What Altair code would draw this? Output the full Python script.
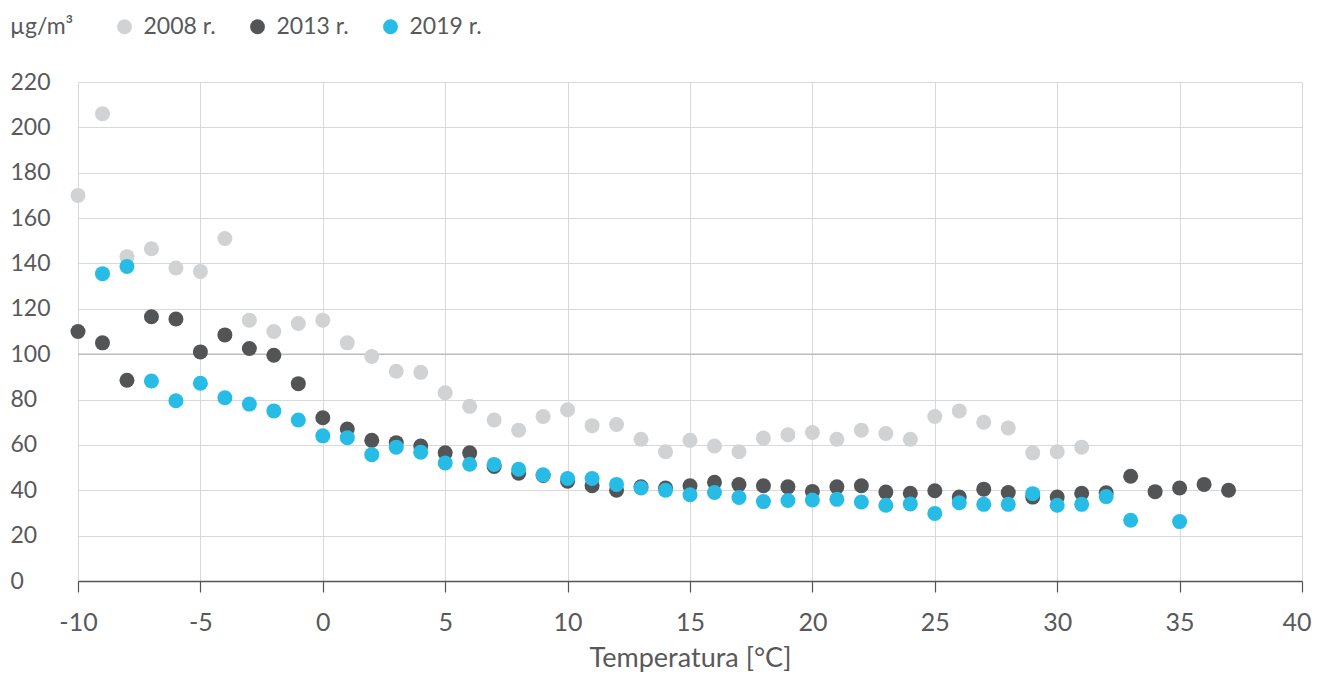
import altair as alt
import pandas as pd

# Temperature categories (°C) and PM concentrations (µg/m³)
t_2008 = [-10, -9, -8, -7, -6, -5, -4, -3, -2, -1, 0, 1, 2, 3, 4, 5, 6, 7, 8, 9, 10,
          11, 12, 13, 14, 15, 16, 17, 18, 19, 20, 21, 22, 23, 24, 25, 26, 27, 28, 29, 30, 31]
v_2008 = [170, 206, 143, 146.5, 138, 136.5, 151, 115, 110, 113.5, 115, 105, 99, 92.5, 92,
          83, 77, 71, 66.5, 72.5, 75.5, 68.5, 69, 62.5, 57, 62, 59.5, 57, 63, 64.5, 65.5,
          62.5, 66.5, 65, 62.5, 72.5, 75, 70, 67.5, 56.5, 57, 59]

t_2013 = [-10, -9, -8, -7, -6, -5, -4, -3, -2, -1, 0, 1, 2, 3, 4, 5, 6, 7, 8, 9, 10,
          11, 12, 13, 14, 15, 16, 17, 18, 19, 20, 21, 22, 23, 24, 25, 26, 27, 28, 29, 30,
          31, 32, 33, 34, 35, 36, 37]
v_2013 = [110, 105, 88.5, 116.5, 115.5, 101, 108.5, 102.5, 99.5, 87, 72, 67, 62, 61, 59.5,
          56.5, 56.5, 50.5, 47.5, 46.5, 44, 42, 40, 41.5, 41, 42, 43.5, 42.5, 42, 41.5, 39.5,
          41.5, 42, 39.2, 38.7, 39.8, 37, 40.5, 39, 37, 37, 38.7, 38.9, 46.2, 39.4, 41,
          42.6, 40]

t_2019 = [-9, -8, -7, -6, -5, -4, -3, -2, -1, 0, 1, 2, 3, 4, 5, 6, 7, 8, 9, 10,
          11, 12, 13, 14, 15, 16, 17, 18, 19, 20, 21, 22, 23, 24, 25, 26, 27, 28, 29, 30,
          31, 32, 33, 35]
v_2019 = [135.5, 138.7, 88.2, 79.5, 87.2, 80.8, 78, 75, 71, 64, 63.2, 55.7, 59, 56.8, 52,
          51.5, 51.4, 49.3, 46.8, 45.2, 45.2, 42.6, 41, 40, 38, 39, 36.8, 35, 35.5, 35.7,
          36, 34.8, 33.4, 34, 29.8, 34.5, 33.8, 33.8, 38.5, 33.4, 33.8, 37.2, 26.8, 26.2]

series = ["2008 r.", "2013 r.", "2019 r."]
colors = ["#d1d2d4", "#535456", "#27bce6"]
x_ticks = [-10, -5, 0, 5, 10, 15, 20, 25, 30, 35, 40]
y_ticks = [0, 20, 40, 60, 80, 100, 120, 140, 160, 180, 200, 220]

rows = []
for name, ts, vs in zip(series, [t_2008, t_2013, t_2019], [v_2008, v_2013, v_2019]):
    for t, v in zip(ts, vs):
        rows.append({"t": t, "v": v, "s": name})
df = pd.DataFrame(rows)

text_color = "#58595b"

points = alt.Chart(df).mark_circle(size=225, opacity=1).encode(
    x=alt.X("t:Q",
            scale=alt.Scale(domain=[-10, 40], nice=False, zero=False),
            axis=alt.Axis(values=x_ticks, labelExpr="'' + datum.value",
                          labelFlush=False,
                          labelAlign={"condition": {"test": "datum.value == 40", "value": "right"},
                                      "value": "center"},
                          labelOffset={"condition": {"test": "datum.value == 40", "value": 9},
                                       "value": 0},
                          title="Temperatura [°C]")),
    y=alt.Y("v:Q",
            scale=alt.Scale(domain=[0, 220], nice=False),
            axis=alt.Axis(values=y_ticks, title=None)),
    color=alt.Color("s:N",
                    scale=alt.Scale(domain=series, range=colors),
                    legend=alt.Legend(title="µg/m³", orient="none", direction="horizontal",
                                      legendX=-68, legendY=-67, titleOrient="left",
                                      symbolType="circle", symbolSize=220,
                                      symbolStrokeWidth=0, symbolOpacity=1,
                                      labelFontSize=23, titleFontSize=23,
                                      titleFontWeight="normal", titlePadding=39,
                                      labelOffset=7.5, columnPadding=30,
                                      labelColor=text_color, titleColor=text_color)),
    order=alt.Order("s:N"),
)

rule = alt.Chart(pd.DataFrame({"v": [100]})).mark_rule(color="#bcbcbc", strokeWidth=1.6).encode(
    y=alt.Y("v:Q")
)

chart = alt.layer(rule, points).properties(
    width=1224, height=499,
    padding={"left": 70, "top": 74, "right": 10, "bottom": 92},
    autosize=alt.AutoSizeParams(type="none"),
).configure(
    font="Lato",
).configure_view(
    stroke=None,
).configure_axis(
    gridColor="#d9d9d9", gridWidth=1,
    labelColor=text_color, titleColor=text_color,
    titleFontWeight="normal",
).configure_axisX(
    domainColor="#555555", domainWidth=1.5,
    tickColor="#555555", tickSize=11, tickWidth=1.2,
    labelFontSize=25, labelPadding=18,
    titleFontSize=27, titlePadding=10,
).configure_axisY(
    domain=False, ticks=False, tickSize=0,
    labelFontSize=23,
    labelAlign="left", labelPadding=68, labelBaseline="middle",
)

chart.save("out.html", embed_options={"renderer": "svg", "actions": False})
